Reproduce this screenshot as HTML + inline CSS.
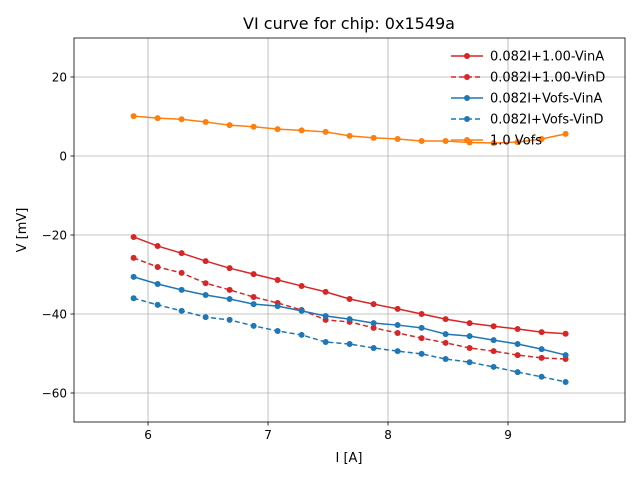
<!DOCTYPE html>
<html><head><meta charset="utf-8"><style>
body{margin:0;background:#fff;font-family:"Liberation Sans","DejaVu Sans",sans-serif}
svg text{font-family:"DejaVu Sans","Liberation Sans",sans-serif}
</style></head><body>
<svg id="c" width="640" height="480" xmlns="http://www.w3.org/2000/svg"></svg>
<script>
const xs=[5.88,6.08,6.28,6.48,6.68,6.88,7.08,7.28,7.48,7.68,7.88,8.08,8.28,8.48,8.68,8.88,9.08,9.28,9.48];
const labels=["0.082I+1.00-VinA","0.082I+1.00-VinD","0.082I+Vofs-VinA","0.082I+Vofs-VinD","1.0 Vofs"];
const redSolid=[-20.5,-22.8,-24.6,-26.6,-28.4,-29.9,-31.4,-32.9,-34.4,-36.2,-37.5,-38.7,-40,-41.3,-42.3,-43.1,-43.8,-44.6,-45];
const redDash=[-25.8,-28.1,-29.6,-32.2,-33.9,-35.7,-37.2,-39,-41.5,-42,-43.5,-44.8,-46.1,-47.3,-48.6,-49.4,-50.4,-51.1,-51.4];
const blueSolid=[-30.6,-32.4,-33.9,-35.2,-36.2,-37.5,-38,-39.2,-40.5,-41.3,-42.3,-42.8,-43.5,-45.1,-45.6,-46.6,-47.6,-48.9,-50.4];
const blueDash=[-36,-37.7,-39.2,-40.8,-41.5,-43,-44.3,-45.3,-47.1,-47.6,-48.6,-49.4,-50.1,-51.4,-52.2,-53.4,-54.7,-55.9,-57.2];
const orange=[10.1,9.6,9.3,8.6,7.8,7.4,6.8,6.5,6.1,5.1,4.6,4.3,3.8,3.8,3.4,3.3,3.5,4.3,5.6];
const xTicks=[6,7,8,9];
const yTicks=[20,0,-20,-40,-60];
const L=74,R=625,T=38,B=422,xmin=5.383,xmax=9.975,ymin=-67.34,ymax=29.87;
const sx=v=>L+(v-xmin)/(xmax-xmin)*(R-L);
const sy=v=>B-(v-ymin)/(ymax-ymin)*(B-T);
const svg=document.getElementById('c');const NS="http://www.w3.org/2000/svg";
function el(t,a,p){const e=document.createElementNS(NS,t);for(const k in a)e.setAttribute(k,a[k]);(p||svg).appendChild(e);return e;}
xTicks.forEach(v=>{const x=sx(v);
const g=el('line',{x1:x,x2:x,y1:T,y2:B,stroke:'#b0b0b0','stroke-width':0.8});


el('line',{x1:x,x2:x,y1:B,y2:B+3.5,stroke:'#000','stroke-width':0.8});
const t=el('text',{x:x,y:B+17,'text-anchor':'middle','font-size':12});t.textContent=v;

});
yTicks.forEach(v=>{const y=sy(v);
const g=el('line',{x1:L,x2:R,y1:y,y2:y,stroke:'#b0b0b0','stroke-width':0.8});


el('line',{x1:L-3.5,x2:L,y1:y,y2:y,stroke:'#000','stroke-width':0.8});
const t=el('text',{x:L-7,y:y+4.5,'text-anchor':'end','font-size':12});t.textContent=(v<0?'\u2212'+(-v):v);

});
const series=[[redSolid,'#d62728',''],[redDash,'#d62728','5,3'],[blueSolid,'#1f77b4',''],[blueDash,'#1f77b4','5,3'],[orange,'#ff7f0e','']];
series.forEach((s,i)=>{const g=el('g',{});


el('polyline',{points:xs.map((x,j)=>sx(x)+','+sy(s[0][j])).join(' '),fill:'none',stroke:s[1],'stroke-width':1.5,'stroke-dasharray':s[2]},g);
xs.forEach((x,j)=>el('circle',{cx:sx(x),cy:sy(s[0][j]),r:3,fill:s[1]},g));});
const fr=el('rect',{x:L,y:T,width:R-L,height:B-T,fill:'none',stroke:'#000','stroke-width':0.8});


series.forEach((s,i)=>{const y=56+i*21;const g=el('g',{});


el('line',{x1:451,x2:483,y1:y,y2:y,stroke:s[1],'stroke-width':1.5,'stroke-dasharray':s[2]},g);
el('circle',{cx:467,cy:y,r:3,fill:s[1]},g);
const t=el('text',{x:490,y:y+4.5,'font-size':13},g);t.textContent=labels[i];});
const tt=el('text',{x:349,y:29,'text-anchor':'middle','font-size':16});tt.textContent='VI curve for chip: 0x1549a';


const xl=el('text',{x:349,y:462,'text-anchor':'middle','font-size':13});xl.textContent='I [A]';


const yl=el('text',{x:26,y:230,'text-anchor':'middle','font-size':13,transform:'rotate(-90 26 230)'});yl.textContent='V [mV]';


</script></body></html>
